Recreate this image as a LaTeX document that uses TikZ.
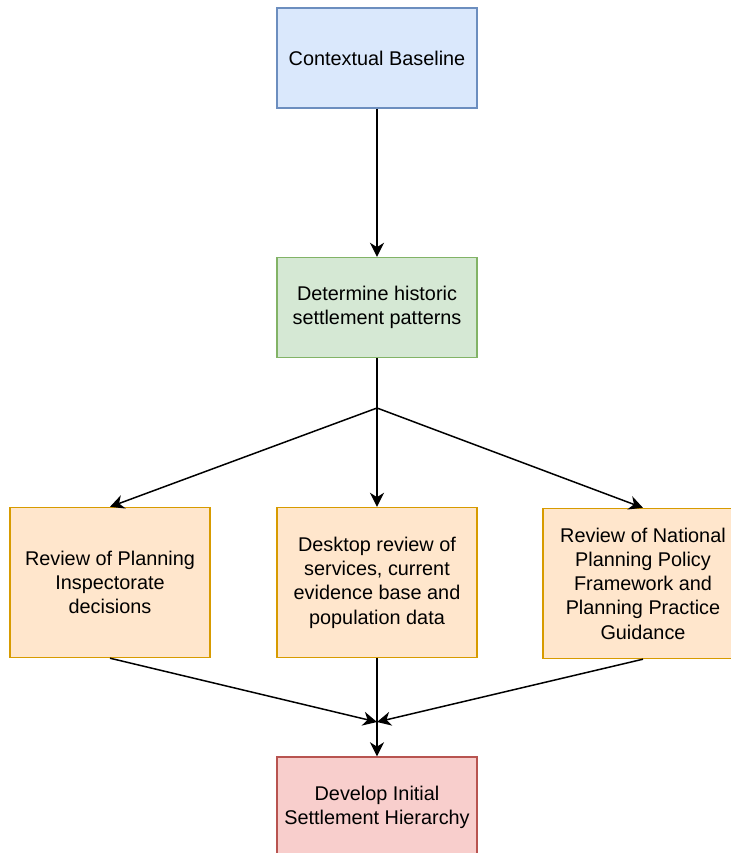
\documentclass[tikz,border=0pt]{standalone}
\usepackage{fontspec}
\setmainfont{Liberation Sans}
\usetikzlibrary{arrows.meta}
\definecolor{baseFill}{HTML}{DAE8FC}
\definecolor{baseLine}{HTML}{6C8EBF}
\definecolor{histFill}{HTML}{D5E8D4}
\definecolor{histLine}{HTML}{82B366}
\definecolor{revFill}{HTML}{FFE6CC}
\definecolor{revLine}{HTML}{D79B00}
\definecolor{devFill}{HTML}{F8CECC}
\definecolor{devLine}{HTML}{B85450}
\begin{document}
\begin{tikzpicture}[x=0.02cm,y=-0.02cm]
        \tikzstyle{stage}=[rectangle,line width=0.8pt,minimum width=4cm,minimum height=2cm,align=center,font=\fontsize{11.3}{13.8}\selectfont]
        \tikzstyle{review}=[stage,draw=revLine,fill=revFill,minimum height=3cm]
        \tikzstyle{edge}=[line width=0.85pt,-{Stealth[length=8pt,width=8pt,inset=2.5pt]}]
        \useasboundingbox (0,0) rectangle (731,853);

        \node [stage,draw=baseLine,fill=baseFill] (base) at (377,58) {Contextual Baseline};
        \node [stage,draw=histLine,fill=histFill] (hist) at (377,307.5) {Determine historic\\settlement patterns};

        \node [review] (insp) at (110,582.5) {Review of Planning\\Inspectorate\\decisions};
        \node [review] (desk) at (377,582.5) {Desktop review of\\services, current\\evidence base and\\population data};
        \node [review] (nppf) at (643,583.5) {Review of National\\Planning Policy\\Framework and\\Planning Practice\\Guidance};

        \node [stage,draw=devLine,fill=devFill] (dev) at (377,807) {Develop Initial\\Settlement Hierarchy};

        \coordinate (split) at (377,408);
        \coordinate (merge) at (377,722);

        \draw[edge] (base) -- (hist);
        \draw[edge,-] (hist.south) -- (split);
        \draw[edge] (split) -- (insp.north);
        \draw[edge] (split) -- (desk.north);
        \draw[edge] (split) -- (nppf.north);

        \draw[edge] (insp.south) -- (merge);
        \draw[edge] (nppf.south) -- (merge);
        \draw[edge] (desk.south) -- (dev.north);
\end{tikzpicture}
\end{document}
